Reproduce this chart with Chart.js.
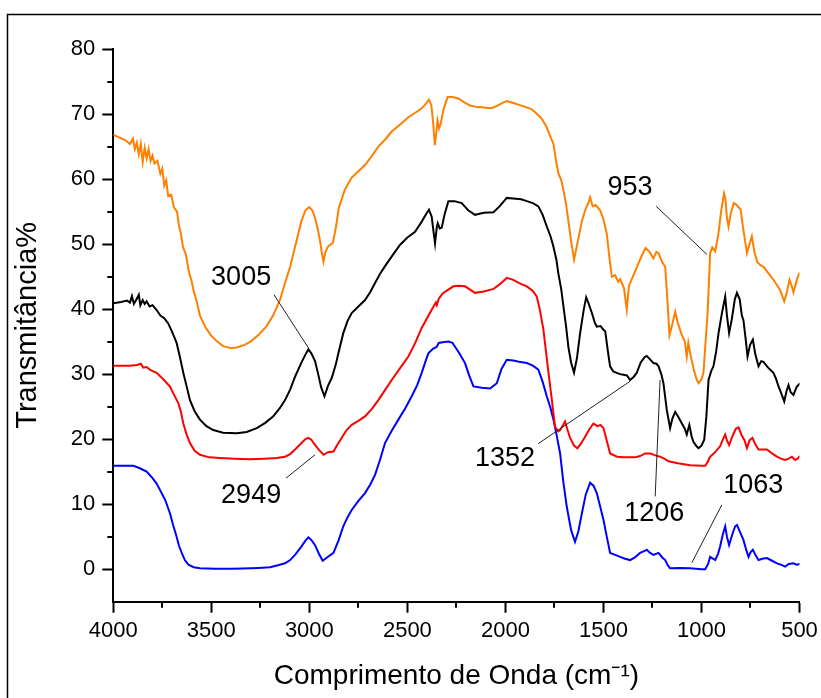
<!DOCTYPE html>
<html>
<head>
<meta charset="utf-8">
<script src="https://cdn.jsdelivr.net/npm/chart.js@4/dist/chart.umd.min.js"></script>
<style>
  html, body { margin: 0; padding: 0; background: #fff; }
  canvas { display: block; }
</style>
</head>
<body>
<canvas id="ftirChart" width="821" height="698"></canvas>
<script>
// wavenumber (cm-1) / transmittance (%) pairs
const orangeWn = [4000,3970,3940,3915,3900,3890,3880,3870,3860,3850,3840,3830,3820,3810,3800,3790,3775,3760,3750,3740,3730,3720,3705,3690,3675,3665,3655,3645,3630,3615,3600,3590,3575,3558,3530,3500,3470,3440,3400,3370,3330,3300,3260,3220,3185,3150,3124,3098,3073,3040,3020,3001,2985,2971,2955,2945,2935,2928,2918,2905,2880,2865,2850,2820,2785,2750,2715,2680,2648,2610,2580,2540,2495,2460,2430,2405,2390,2378,2368,2360,2352,2346,2338,2330,2315,2295,2270,2240,2210,2180,2150,2110,2070,2040,2010,1990,1960,1930,1900,1870,1845,1815,1790,1770,1755,1740,1730,1715,1704,1690,1679,1665,1650,1635,1620,1610,1590,1575,1568,1555,1540,1517,1500,1483,1470,1457,1440,1425,1415,1395,1381,1370,1350,1330,1305,1285,1265,1245,1230,1219,1200,1185,1175,1163,1150,1134,1120,1100,1085,1075,1067,1055,1040,1025,1015,1000,990,980,969,960,956,945,930,920,913,900,885,878,870,862,850,835,820,800,790,780,768,755,743,730,715,700,680,666,645,630,615,600,590,578,565,551,540,531,520,510,500];
const orangeT = [66.8,66.4,66.0,65.4,66.2,64.6,65.6,63.8,65.4,62.6,64.8,63.2,64.6,62.8,63.6,62.4,62.8,60.8,61.6,59.0,59.8,57.4,57.6,55.6,55.0,52.8,51.6,49.6,48.4,45.8,44.2,42.8,41.2,39.0,37.2,35.9,35.0,34.3,34.0,34.1,34.5,35.0,36.0,37.3,39.0,41.4,44.0,46.5,49.6,53.6,55.2,55.7,55.2,54.0,52.0,50.4,48.4,47.3,48.8,49.6,50.2,52.5,55.5,58.3,60.2,61.2,62.2,63.6,65.0,66.2,67.3,68.3,69.5,70.2,70.8,71.6,72.2,71.4,68.5,65.2,67.2,69.0,67.8,68.5,70.8,72.6,72.6,72.4,71.8,71.3,71.1,71.0,70.9,71.3,71.8,72.0,71.7,71.4,71.1,70.8,70.2,69.3,68.0,66.5,65.4,62.5,60.9,59.8,58.3,56.0,53.6,50.5,47.6,49.8,52.0,53.5,55.5,56.5,57.2,55.8,56.0,55.2,53.8,51.6,48.0,45.0,45.2,44.2,44.6,43.2,39.9,43.6,45.0,46.4,48.2,49.4,48.8,47.8,48.8,48.6,47.2,46.5,42.0,36.0,37.5,39.6,37.8,36.0,35.0,32.7,34.8,32.8,30.8,29.2,28.6,29.2,30.2,34.5,39.4,45.5,48.6,49.5,48.9,50.5,51.7,55.0,57.8,57.0,54.0,52.7,54.8,56.3,56.0,55.3,53.0,51.0,48.6,50.0,51.2,48.8,47.2,46.8,46.4,45.8,45.0,44.4,43.7,43.0,42.2,41.2,42.5,44.5,43.6,42.6,43.8,44.8,45.6];

const blackWn = [4000,3960,3930,3915,3905,3895,3880,3870,3862,3850,3840,3830,3815,3800,3780,3760,3740,3720,3700,3677,3660,3643,3625,3609,3585,3558,3525,3490,3440,3370,3320,3268,3225,3184,3150,3124,3098,3073,3040,3020,3005,2990,2971,2955,2940,2923,2905,2886,2865,2852,2827,2805,2784,2750,2716,2690,2665,2640,2614,2575,2537,2500,2461,2430,2405,2390,2376,2367,2359,2350,2345,2335,2325,2310,2291,2260,2223,2190,2155,2110,2061,2030,1993,1960,1920,1891,1860,1832,1810,1789,1770,1755,1740,1730,1715,1704,1690,1679,1665,1650,1635,1619,1600,1588,1575,1559,1545,1534,1515,1500,1491,1475,1466,1450,1432,1415,1398,1380,1364,1345,1330,1310,1290,1279,1260,1245,1230,1219,1205,1194,1177,1160,1148,1134,1118,1100,1085,1075,1062,1050,1041,1025,1015,1000,986,975,964,950,939,925,913,895,879,870,859,845,830,819,805,794,786,775,765,752,738,725,709,695,684,660,633,620,607,590,578,566,556,545,531,515,497];
const blackT = [40.9,41.1,41.3,41.0,42.0,40.8,41.6,42.2,40.6,41.4,40.8,41.2,40.4,40.6,39.9,39.0,38.6,37.8,36.5,34.8,32.6,30.2,28.0,26.0,24.3,23.0,22.0,21.4,21.0,20.9,21.1,21.7,22.5,23.5,24.8,26.0,27.6,29.6,31.8,33.0,33.8,33.2,32.0,30.0,28.0,26.6,28.2,29.4,31.5,33.2,36.3,38.2,39.4,40.4,41.4,42.6,44.0,45.4,46.6,48.3,49.9,51.0,51.9,53.3,54.6,55.3,54.2,52.0,50.1,52.6,53.2,52.4,52.5,54.6,56.6,56.6,56.3,55.2,54.5,54.8,54.9,55.8,57.1,57.0,56.9,56.6,56.3,55.8,54.5,52.7,51.2,49.6,47.6,45.5,43.0,40.4,37.2,34.2,31.8,30.2,32.5,36.3,40.0,41.8,40.8,39.4,38.0,37.3,37.4,36.8,36.6,33.0,31.2,30.4,30.2,30.0,29.9,29.8,29.1,29.6,30.2,31.8,32.6,32.8,32.2,31.7,31.6,31.2,30.0,28.6,24.5,21.7,23.2,24.2,23.4,22.4,21.6,20.7,22.2,20.4,19.6,18.9,18.6,19.0,19.9,23.5,29.1,30.5,31.2,33.5,36.3,39.5,41.9,39.0,36.3,38.5,41.5,42.5,41.5,39.0,38.3,35.5,32.7,34.5,35.3,33.0,31.2,32.0,31.9,31.0,30.2,29.3,28.1,26.8,25.8,27.4,28.3,27.2,26.8,28.0,28.6];

const redWn = [4000,3950,3915,3880,3860,3847,3830,3810,3779,3745,3711,3690,3668,3655,3643,3625,3609,3585,3558,3510,3456,3380,3303,3230,3166,3124,3098,3073,3040,3020,3005,2990,2971,2950,2928,2905,2877,2860,2835,2810,2784,2750,2716,2680,2648,2615,2580,2540,2495,2460,2427,2400,2376,2355,2350,2340,2320,2291,2265,2240,2206,2180,2155,2110,2061,2030,1993,1960,1930,1891,1860,1840,1825,1806,1786,1763,1747,1730,1721,1705,1696,1683,1670,1650,1633,1615,1593,1570,1551,1530,1515,1500,1485,1466,1430,1400,1381,1340,1313,1287,1260,1235,1211,1190,1168,1120,1058,1000,981,968,956,930,905,890,879,870,859,840,825,811,795,780,768,755,740,725,709,690,666,640,615,595,573,555,539,522,510,497];
const redT = [31.3,31.3,31.3,31.4,31.6,31.0,31.1,30.6,30.2,29.2,28.1,26.8,25.5,24.2,22.4,20.6,19.4,18.2,17.6,17.2,17.1,17.0,16.9,17.0,17.1,17.3,17.7,18.4,19.4,20.0,20.2,19.9,19.1,18.3,17.6,18.0,18.1,19.0,20.2,21.4,22.2,22.8,23.5,24.7,26.0,27.5,29.1,30.8,32.7,34.8,37.1,38.6,39.9,41.0,40.6,41.6,42.4,43.0,43.5,43.6,43.5,43.0,42.5,42.7,43.1,43.8,44.8,44.5,44.0,43.5,42.8,41.9,40.0,36.8,31.6,26.0,21.9,21.2,21.4,22.2,22.7,21.4,20.2,19.0,18.6,19.3,20.4,21.6,22.4,22.0,22.2,21.7,20.0,17.8,17.3,17.2,17.2,17.2,17.4,17.8,17.8,17.5,17.3,17.0,16.6,16.3,16.0,15.9,15.9,16.5,17.3,18.0,18.9,20.0,20.7,19.8,19.1,20.6,21.6,21.8,20.6,19.8,18.6,19.8,20.2,19.2,18.4,18.4,18.4,17.8,17.3,17.0,16.8,17.0,17.3,16.8,17.0,17.4];

const blueWn = [4000,3950,3898,3870,3830,3800,3780,3762,3735,3711,3695,3677,3665,3651,3635,3617,3590,3558,3480,3400,3337,3260,3201,3160,3124,3098,3073,3040,3020,3005,2990,2971,2950,2932,2910,2877,2850,2827,2805,2784,2750,2716,2690,2665,2640,2614,2580,2546,2510,2478,2450,2427,2405,2393,2370,2350,2340,2320,2291,2270,2257,2235,2206,2185,2163,2120,2078,2044,2020,1993,1960,1930,1891,1860,1832,1810,1789,1770,1755,1738,1721,1705,1687,1665,1645,1628,1610,1590,1568,1550,1534,1518,1500,1483,1466,1440,1415,1390,1364,1340,1313,1290,1279,1262,1245,1219,1200,1185,1172,1160,1110,1058,1000,981,966,956,940,930,915,905,890,879,870,859,840,828,819,805,786,772,760,750,738,725,709,690,666,640,615,595,573,555,531,515,497];
const blueT = [15.9,15.9,15.9,15.6,15.0,14.0,13.2,12.2,10.6,8.6,6.8,5.0,3.6,2.5,1.4,0.7,0.3,0.15,0.05,0.05,0.1,0.2,0.3,0.6,0.9,1.4,2.2,3.5,4.4,4.9,4.5,3.7,2.3,1.3,1.8,2.5,4.5,6.6,8.0,9.1,10.5,11.7,13.0,14.5,16.8,19.4,21.3,23.0,24.8,26.6,28.3,30.2,32.2,33.2,33.9,34.2,34.8,34.9,35.0,34.8,34.2,33.2,31.7,29.8,28.1,27.9,27.8,28.6,30.8,32.2,32.1,31.9,31.7,31.3,30.7,28.8,26.6,24.8,23.0,20.5,17.8,13.5,9.6,6.0,4.2,5.8,8.6,11.5,13.3,12.8,11.7,9.8,7.6,5.0,2.5,2.2,1.9,1.6,1.4,1.8,2.5,2.8,3.0,2.5,2.2,2.5,1.8,1.4,0.6,0.15,0.2,0.15,0.0,0.0,0.8,1.9,1.6,1.4,2.4,3.5,5.5,6.6,5.0,3.7,5.6,6.6,6.8,5.8,4.5,3.0,1.9,2.6,3.0,2.2,1.4,1.6,1.7,1.3,0.9,0.7,0.4,0.8,0.9,0.7,0.8];

const xTicks = [4000, 3500, 3000, 2500, 2000, 1500, 1000, 500];
const xMinorTicks = [3750, 3250, 2750, 2250, 1750, 1250, 750];
const yTicks = [0, 10, 20, 30, 40, 50, 60, 70, 80];
const yMinorTicks = [5, 15, 25, 35, 45, 55, 65, 75];

// peak labels: text position and leader line, all in data units
const peakLabels = ['3005', '2949', '1352', '1206', '1063', '953'];
const peakTextWn = [3348, 3297, 2002, 1241, 736, 1364];
const peakTextT = [44.8, 11.4, 17.0, 8.5, 12.8, 58.7];
const peakFromWn = [3180, 3119, 1833, 1236, 896, 1231];
const peakFromT = [42.2, 14.0, 19.3, 11.2, 9.9, 55.8];
const peakToWn = [3002, 2971, 1364, 1211, 1049, 972];
const peakToT = [33.9, 17.6, 28.9, 29.1, 1.0, 48.4];

const FONT = "'Liberation Sans', Arial, sans-serif";

function toPoints(wn, t) {
    return wn.map((w, i) => ({ x: w, y: t[i] }));
}

const extras = {
    id: 'extras',
    beforeDraw(chart) {
        const c = chart.ctx;
        c.save();
        c.strokeStyle = '#000';
        c.lineWidth = 1.5;
        c.beginPath();
        c.moveTo(7.5, 698);
        c.lineTo(7.5, 14.5);
        c.lineTo(821, 14.5);
        c.stroke();
        c.restore();
    },
    afterDraw(chart) {
        const c = chart.ctx;
        const xs = chart.scales.x, ys = chart.scales.y;
        const area = chart.chartArea;
        c.save();
        // minor ticks
        c.strokeStyle = '#000';
        c.lineWidth = 2;
        c.beginPath();
        xMinorTicks.forEach(v => {
            const px = Math.round(xs.getPixelForValue(v));
            c.moveTo(px, area.bottom);
            c.lineTo(px, area.bottom + 6);
        });
        yMinorTicks.forEach(v => {
            const py = Math.round(ys.getPixelForValue(v));
            c.moveTo(area.left, py);
            c.lineTo(area.left - 6, py);
        });
        c.stroke();
        // leader lines
        c.strokeStyle = '#222';
        c.lineWidth = 1;
        c.beginPath();
        peakLabels.forEach((lab, i) => {
            c.moveTo(xs.getPixelForValue(peakFromWn[i]), ys.getPixelForValue(peakFromT[i]));
            c.lineTo(xs.getPixelForValue(peakToWn[i]), ys.getPixelForValue(peakToT[i]));
        });
        c.stroke();
        // labels
        c.fillStyle = '#000';
        c.font = '27px ' + FONT;
        c.textAlign = 'center';
        c.textBaseline = 'middle';
        peakLabels.forEach((lab, i) => {
            c.fillText(lab, xs.getPixelForValue(peakTextWn[i]), ys.getPixelForValue(peakTextT[i]));
        });
        c.restore();
    }
};

document.addEventListener('DOMContentLoaded', function () {
    const ctx = document.getElementById('ftirChart');

    new Chart(ctx, {
        type: 'line',
        data: {
            datasets: [
                { label: 'laranja', data: toPoints(orangeWn, orangeT), borderColor: '#FF8000' },
                { label: 'preto', data: toPoints(blackWn, blackT), borderColor: '#000000' },
                { label: 'vermelho', data: toPoints(redWn, redT), borderColor: '#FF0000' },
                { label: 'azul', data: toPoints(blueWn, blueT), borderColor: '#0000FF' }
            ]
        },
        options: {
            responsive: false,
            animation: false,
            layout: { padding: { left: 0, right: 21.5, top: 49, bottom: 0 } },
            elements: {
                point: { radius: 0 },
                line: { borderWidth: 2, tension: 0, fill: false }
            },
            plugins: {
                legend: { display: false },
                tooltip: { enabled: false }
            },
            scales: {
                x: {
                    type: 'linear',
                    reverse: true,
                    min: 500,
                    max: 4000,
                    afterBuildTicks: s => { s.ticks = xTicks.map(v => ({ value: v })); },
                    afterFit: s => { s.height = 96.3; s.paddingLeft = 0; s.paddingRight = 0; },
                    border: { color: '#000', width: 2 },
                    grid: { drawOnChartArea: false, tickLength: 11, tickColor: '#000', tickWidth: 2 },
                    ticks: {
                        color: '#000',
                        font: { family: FONT, size: 22 },
                        padding: 5,
                        maxRotation: 0,
                        autoSkip: false,
                        callback: v => String(v)
                    },
                    title: {
                        display: true,
                        text: 'Comprimento de Onda (cm\u207B\u00B9)',
                        color: '#000',
                        font: { family: FONT, size: 28 },
                        padding: { top: 0, bottom: 5 }
                    }
                },
                y: {
                    min: -5,
                    max: 80,
                    afterBuildTicks: s => { s.ticks = yTicks.map(v => ({ value: v })); },
                    afterFit: s => { s.width = 113.3; s.paddingTop = 0; s.paddingBottom = 0; },
                    border: { color: '#000', width: 2 },
                    grid: { drawOnChartArea: false, tickLength: 11, tickColor: '#000', tickWidth: 2 },
                    ticks: { color: '#000', font: { family: FONT, size: 22 }, padding: 7, callback: v => String(v) },
                    title: {
                        display: true,
                        text: 'Transmitância%',
                        color: '#000',
                        font: { family: FONT, size: 29 },
                        padding: { top: 11, bottom: 0 }
                    }
                }
            }
        },
        plugins: [extras]
    });
});
</script>
</body>
</html>
